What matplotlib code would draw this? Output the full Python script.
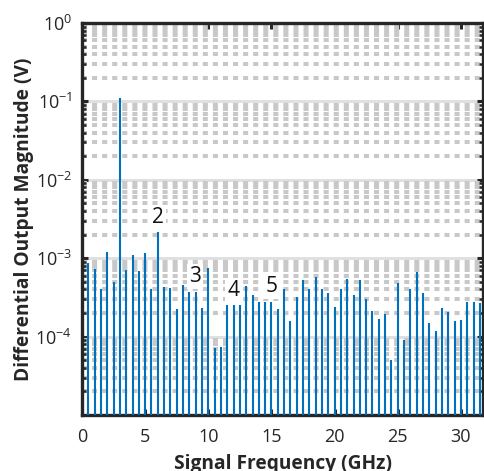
import numpy as np
import matplotlib
matplotlib.use('Agg')
import matplotlib.pyplot as plt
from matplotlib.ticker import LogLocator, FixedLocator, NullFormatter

plt.rcParams.update({
    'font.family': 'Open Sans', 'mathtext.fontset': 'custom',
    'mathtext.rm': 'Open Sans', 'mathtext.it': 'Open Sans',
    'mathtext.bf': 'Open Sans:bold',
})

# spectrum bins (GHz) and magnitudes (V)
freq = [0.5, 1.0, 1.5, 2.0, 2.5, 3.0, 3.5, 4.0, 4.5, 5.0, 5.5, 6.0, 6.5, 7.0, 7.5, 8.0,
        8.5, 9.0, 9.5, 10.0, 10.5, 11.0, 11.5, 12.0, 12.5, 13.0, 13.5, 14.0, 14.5, 15.0,
        15.5, 16.0, 16.5, 17.0, 17.5, 18.0, 18.5, 19.0, 19.5, 20.0, 20.5, 21.0, 21.5,
        22.0, 22.5, 23.0, 23.5, 24.0, 24.5, 25.0, 25.5, 26.0, 26.5, 27.0, 27.5, 28.0,
        28.5, 29.0, 29.5, 30.0, 30.5, 31.0, 31.5]
mag = [8.6e-4, 7.3e-4, 4.1e-4, 1.19e-3, 4.9e-4, 1.1e-1, 7.05e-4, 1.11e-3, 6.9e-4, 1.16e-3,
       4.0e-4, 2.14e-3, 4.27e-4, 4.2e-4, 2.27e-4, 4.6e-4,
       3.7e-4, 3.7e-4, 2.35e-4, 7.5e-4, 7.1e-5, 7.3e-5, 2.54e-4, 2.54e-4, 2.54e-4, 4.4e-4,
       3.4e-4, 2.8e-4, 2.8e-4, 2.8e-4, 2.27e-4, 4.0e-4,
       1.6e-4, 3.2e-4, 5.2e-4, 4.1e-4, 5.75e-4, 4.0e-4, 3.57e-4, 2.4e-4, 4.0e-4, 5.5e-4,
       3.4e-4, 5.3e-4, 3.0e-4, 2.1e-4, 1.67e-4,
       1.97e-4, 5.1e-5, 4.8e-4, 9.1e-5, 4.0e-4, 6.7e-4, 3.57e-4, 1.5e-4, 1.19e-4, 2.33e-4,
       2.04e-4, 1.6e-4, 1.64e-4, 2.8e-4, 2.8e-4, 2.7e-4]

# harmonic annotations
harm_lbl = ['2', '3', '4', '5']
harm_x = [6.0, 8.95, 11.97, 15.0]
harm_y = [3.3e-3, 5.8e-4, 3.9e-4, 4.4e-4]

fig = plt.figure(figsize=(4.84, 4.71), dpi=100)
ax = fig.add_axes([82/484, 56/471, 401/484, 392/471])

ax.set_yscale('log')
ax.set_xlim(0, 31.75)
ax.set_ylim(1e-5, 1)

ax.vlines(freq, 1e-5, mag, color='#0072BD', lw=1.5, zorder=3)

for s, x, y in zip(harm_lbl, harm_x, harm_y):
    ax.text(x, y, s, ha='center', va='center', fontsize=15, color='#111111', zorder=4,
            bbox=dict(facecolor='white', edgecolor='none', pad=1.5))

# grid
ax.yaxis.set_major_locator(FixedLocator([1e-4, 1e-3, 1e-2, 1e-1, 1]))
ax.yaxis.set_minor_locator(LogLocator(base=10, subs=np.arange(2, 10), numticks=20))
ax.yaxis.set_minor_formatter(NullFormatter())
ax.grid(True, which='major', axis='y', color='#e0e0e0', lw=2.2, zorder=0)
ax.grid(True, which='minor', axis='y', color='#c8c8c8', lw=2.9,
        ls=(0, (1.25, 1.25)), zorder=0)
ax.set_axisbelow(True)

ax.set_xticks([0, 5, 10, 15, 20, 25, 30])
ax.set_yticklabels(['$10^{-4}$', '$10^{-3}$', '$10^{-2}$', '$10^{-1}$', '$10^{0}$'])
ax.tick_params(axis='x', pad=9)
ax.tick_params(which='major', direction='in', length=4, width=2.2, top=True, right=True,
               labelsize=13, color='#262626', labelcolor='#262626')
ax.tick_params(axis='y', pad=7)
ax.tick_params(which='minor', direction='in', length=3, width=1.8, right=True,
               color='#262626')
for sp in ax.spines.values():
    sp.set_linewidth(2.4)
    sp.set_color('#262626')

ax.set_xlabel('Signal Frequency (GHz)', fontsize=13.8, fontweight='bold',
              color='#262626')
ax.set_ylabel('Differential Output Magnitude (V)', fontsize=13.8, fontweight='bold',
              color='#262626')
ax.xaxis.set_label_coords(0.5, -0.1)
ax.yaxis.set_label_coords(-0.12, 0.5)

fig.savefig('out.png', dpi=100)
